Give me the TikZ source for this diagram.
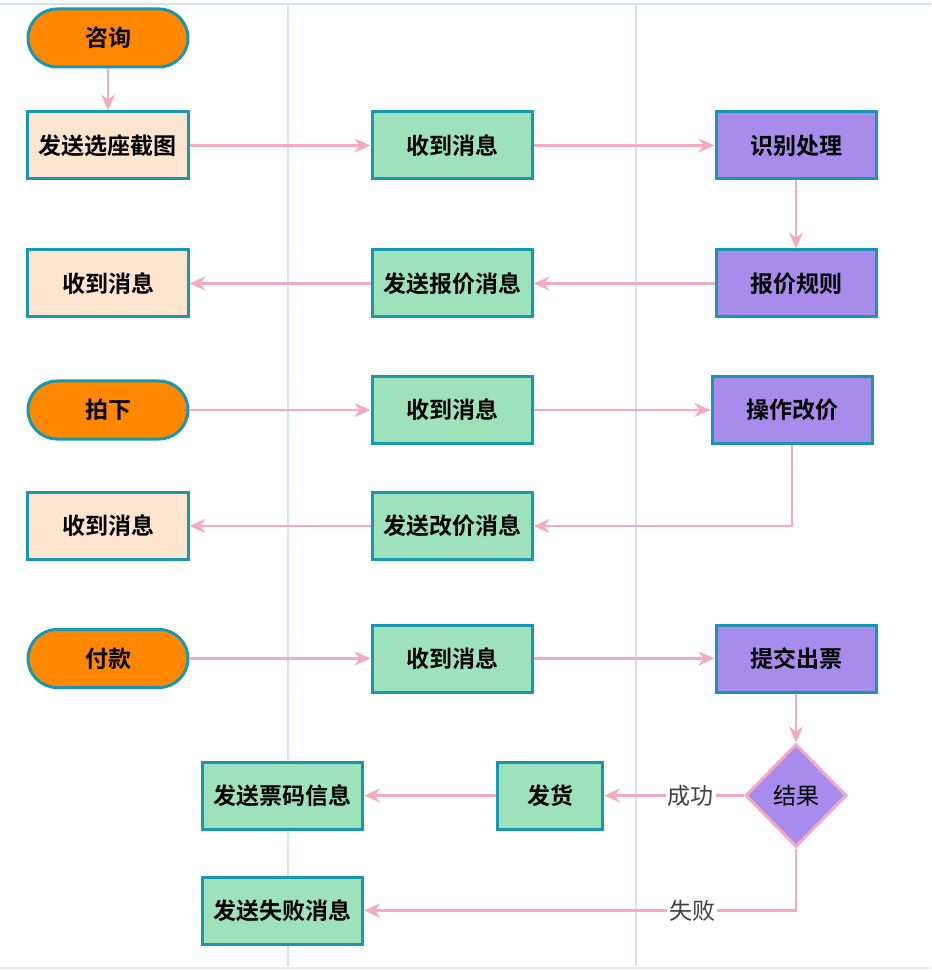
\documentclass[tikz,border=0pt]{standalone}
\usepackage{fontspec}
\newfontfamily\cjk[BoldFont={Noto Sans CJK SC Bold}]{Noto Sans CJK SC}
\usetikzlibrary{arrows.meta,positioning,shapes.geometric}

\definecolor{edgeteal}{RGB}{24,152,176}
\definecolor{startorange}{RGB}{255,136,0}
\definecolor{peach}{RGB}{253,229,208}
\definecolor{mint}{RGB}{158,226,188}
\definecolor{lilac}{RGB}{168,140,236}
\definecolor{flowpink}{RGB}{244,170,196}
\definecolor{lane}{RGB}{212,228,248}

\begin{document}
\begin{tikzpicture}[
  node distance=34pt and 90.5pt,
  font=\cjk\bfseries\fontsize{11.5}{13}\selectfont,
  start/.style={draw=edgeteal,line width=1.5pt,fill=startorange,rounded corners=14.5pt,minimum width=80pt,minimum height=29pt},
  task/.style={draw=edgeteal,line width=1.5pt,minimum width=80pt,minimum height=33.5pt,inner sep=2pt},
  decide/.style={diamond,draw=flowpink,line width=1.5pt,fill=lilac,minimum width=50.5pt,minimum height=51.5pt,inner sep=0pt,font=\cjk\fontsize{11.5}{13}\selectfont},
  tag/.style={fill=white,inner sep=1pt,font=\cjk\fontsize{11.5}{13}\selectfont,text=black!75},
  flow/.style={line width=1.4pt,draw=flowpink,-{Stealth[length=8pt,width=7pt]}}
]
  \useasboundingbox (-54pt,19pt) rectangle (411.5pt,-467pt);
  % lanes
  \draw[lane,line width=0.8pt] (-54pt,17pt) -- (411.5pt,17pt);
  \draw[lane,line width=0.8pt] (90pt,17pt) -- (90pt,-464pt);
  \draw[lane,line width=0.8pt] (264pt,17pt) -- (264pt,-464pt);
  \draw[black!8,line width=1pt] (-54pt,-465pt) -- (411.5pt,-465pt);

  \node[start] (zx) at (0,0) {咨询};
  \node[task,fill=peach,below=21pt of zx] (fs1) {发送选座截图};
  \node[task,fill=mint,right=of fs1] (sd1) {收到消息};
  \node[task,fill=lilac,right=of sd1] (sb1) {识别处理};
  \node[task,fill=lilac,below=of sb1] (bj) {报价规则};
  \node[task,fill=mint,left=of bj] (fbj) {发送报价消息};
  \node[task,fill=peach,left=of fbj] (sd2) {收到消息};

  \node[start,below=30.5pt of sd2] (pai) {拍下};
  \node[task,fill=mint,right=of pai] (sd3) {收到消息};
  \node[task,fill=lilac,right=88.5pt of sd3] (gj) {操作改价};
  \node[task,fill=mint,below=23pt of sd3] (fgj) {发送改价消息};
  \node[task,fill=peach,left=of fgj] (sd4) {收到消息};

  \node[start,below=33.5pt of sd4] (fk) {付款};
  \node[task,fill=mint,right=of fk] (sd5) {收到消息};
  \node[task,fill=lilac,right=of sd5] (tj) {提交出票};
  \node[decide,below=24.5pt of tj] (jg) {结果};
  \node[task,fill=mint,minimum width=52.5pt,left=70pt of jg] (fh) {发货};
  \node[task,fill=mint,left=66pt of fh] (fpm) {发送票码信息};
  \node[task,fill=mint,below=22.5pt of fpm] (fsb) {发送失败消息};

  \draw[flow] (zx) -- (fs1);
  \draw[flow] (fs1) -- (sd1);
  \draw[flow] (sd1) -- (sb1);
  \draw[flow] (sb1) -- (bj);
  \draw[flow] (bj) -- (fbj);
  \draw[flow] (fbj) -- (sd2);
  \draw[flow] (pai) -- (sd3);
  \draw[flow] (sd3) -- (gj);
  \draw[flow] (gj.south) |- (fgj.east);
  \draw[flow] (fgj) -- (sd4);
  \draw[flow] (fk) -- (sd5);
  \draw[flow] (sd5) -- (tj);
  \draw[flow] (tj) -- (jg);
  \draw[flow] (jg) -- node[tag,pos=.38]{成功} (fh);
  \draw[flow] (fh) -- (fpm);
  \draw[flow] (jg.south) |- node[tag,pos=.62]{失败} (fsb.east);
\end{tikzpicture}
\end{document}
